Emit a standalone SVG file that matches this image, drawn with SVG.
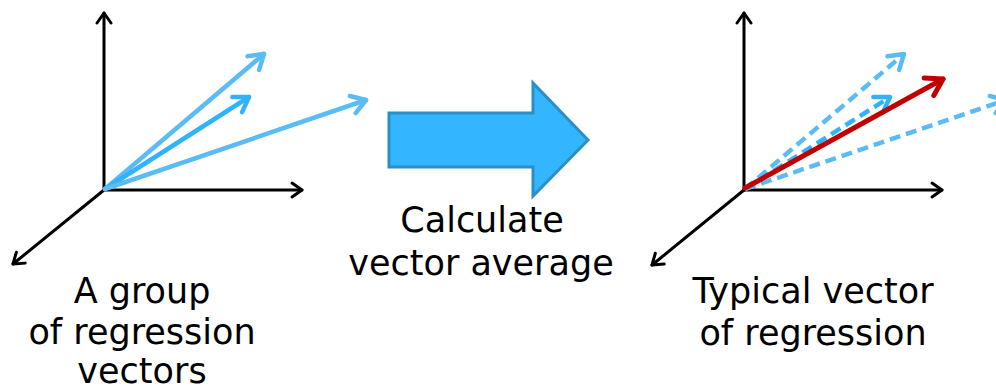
<svg xmlns="http://www.w3.org/2000/svg" width="996" height="392" viewBox="0 0 996 392">
<style>
.ax{stroke:#000;stroke-width:3;fill:none;stroke-linecap:round}
.v1{stroke:#5bbcf5;stroke-width:4.5;fill:none;stroke-linecap:round}
.v2{stroke:#30b3fd;stroke-width:4.5;fill:none;stroke-linecap:round}
.dash{stroke-dasharray:11 6;stroke-linecap:butt}
.red{stroke:#c00000;stroke-width:5;fill:none;stroke-linecap:round}
.t{font-family:"DejaVu Sans",Verdana,sans-serif;font-size:35px;fill:#000;text-anchor:middle}
</style>
<defs>
<marker id="ha" markerUnits="userSpaceOnUse" viewBox="-14 -10 16 20" markerWidth="16" markerHeight="20" refX="0" refY="0" orient="auto" overflow="visible">
<path d="M-10,-7 L0,0 L-10,7" fill="none" stroke="#000" stroke-width="3" stroke-linecap="round" stroke-linejoin="round"/>
</marker>
<marker id="hb1" markerUnits="userSpaceOnUse" viewBox="-16 -12 18 24" markerWidth="18" markerHeight="24" refX="0" refY="0" orient="auto" overflow="visible">
<path d="M-14,-9 L0,0 L-14,9" fill="none" stroke="#5bbcf5" stroke-width="4.5" stroke-linecap="round" stroke-linejoin="round"/>
</marker>
<marker id="hb2" markerUnits="userSpaceOnUse" viewBox="-16 -12 18 24" markerWidth="18" markerHeight="24" refX="0" refY="0" orient="auto" overflow="visible">
<path d="M-14,-9 L0,0 L-14,9" fill="none" stroke="#30b3fd" stroke-width="4.5" stroke-linecap="round" stroke-linejoin="round"/>
</marker>
<marker id="hr" markerUnits="userSpaceOnUse" viewBox="-18 -12 20 24" markerWidth="20" markerHeight="24" refX="0" refY="0" orient="auto" overflow="visible">
<path d="M-16,-10 L0,0 L-16,10" fill="none" stroke="#c00000" stroke-width="5" stroke-linecap="round" stroke-linejoin="round"/>
</marker>
</defs>

<g id="left-plot">
<line class="ax" x1="104" y1="190" x2="104" y2="13" marker-end="url(#ha)"/>
<line class="ax" x1="104" y1="190" x2="302" y2="190" marker-end="url(#ha)"/>
<line class="ax" x1="104" y1="190" x2="13" y2="264" marker-end="url(#ha)"/>
<line class="v1" x1="105" y1="189" x2="264" y2="54" marker-end="url(#hb1)"/>
<line class="v2" x1="105" y1="189" x2="249" y2="97" marker-end="url(#hb2)"/>
<line class="v1" x1="105" y1="189" x2="366" y2="100" marker-end="url(#hb1)"/>
</g>

<g id="process-arrow">
<polygon points="389,113 533,113 533,83 588,140 533,196 533,167 389,167" fill="#33b5ff" stroke="#2a8fc8" stroke-width="3" stroke-linejoin="miter"/>
</g>

<g id="right-plot">
<line class="ax" x1="744" y1="190" x2="744" y2="13" marker-end="url(#ha)"/>
<line class="ax" x1="744" y1="190" x2="942" y2="190" marker-end="url(#ha)"/>
<line class="ax" x1="744" y1="190" x2="652" y2="265" marker-end="url(#ha)"/>
<line class="v1 dash" x1="745" y1="189" x2="904" y2="54" marker-end="url(#hb1)"/>
<line class="v2 dash" x1="745" y1="189" x2="890" y2="97" marker-end="url(#hb2)"/>
<line class="v1 dash" x1="745" y1="189" x2="1006" y2="100" marker-end="url(#hb1)"/>
<line class="red" x1="745" y1="188" x2="943" y2="79" marker-end="url(#hr)"/>
</g>

<g id="labels">
<text class="t" x="142" y="303">A group</text>
<text class="t" x="142" y="344">of regression</text>
<text class="t" x="142" y="383">vectors</text>
<text class="t" x="482" y="232">Calculate</text>
<text class="t" x="481" y="275">vector average</text>
<text class="t" x="813" y="303">Typical vector</text>
<text class="t" x="813" y="345">of regression</text>
</g>
</svg>
